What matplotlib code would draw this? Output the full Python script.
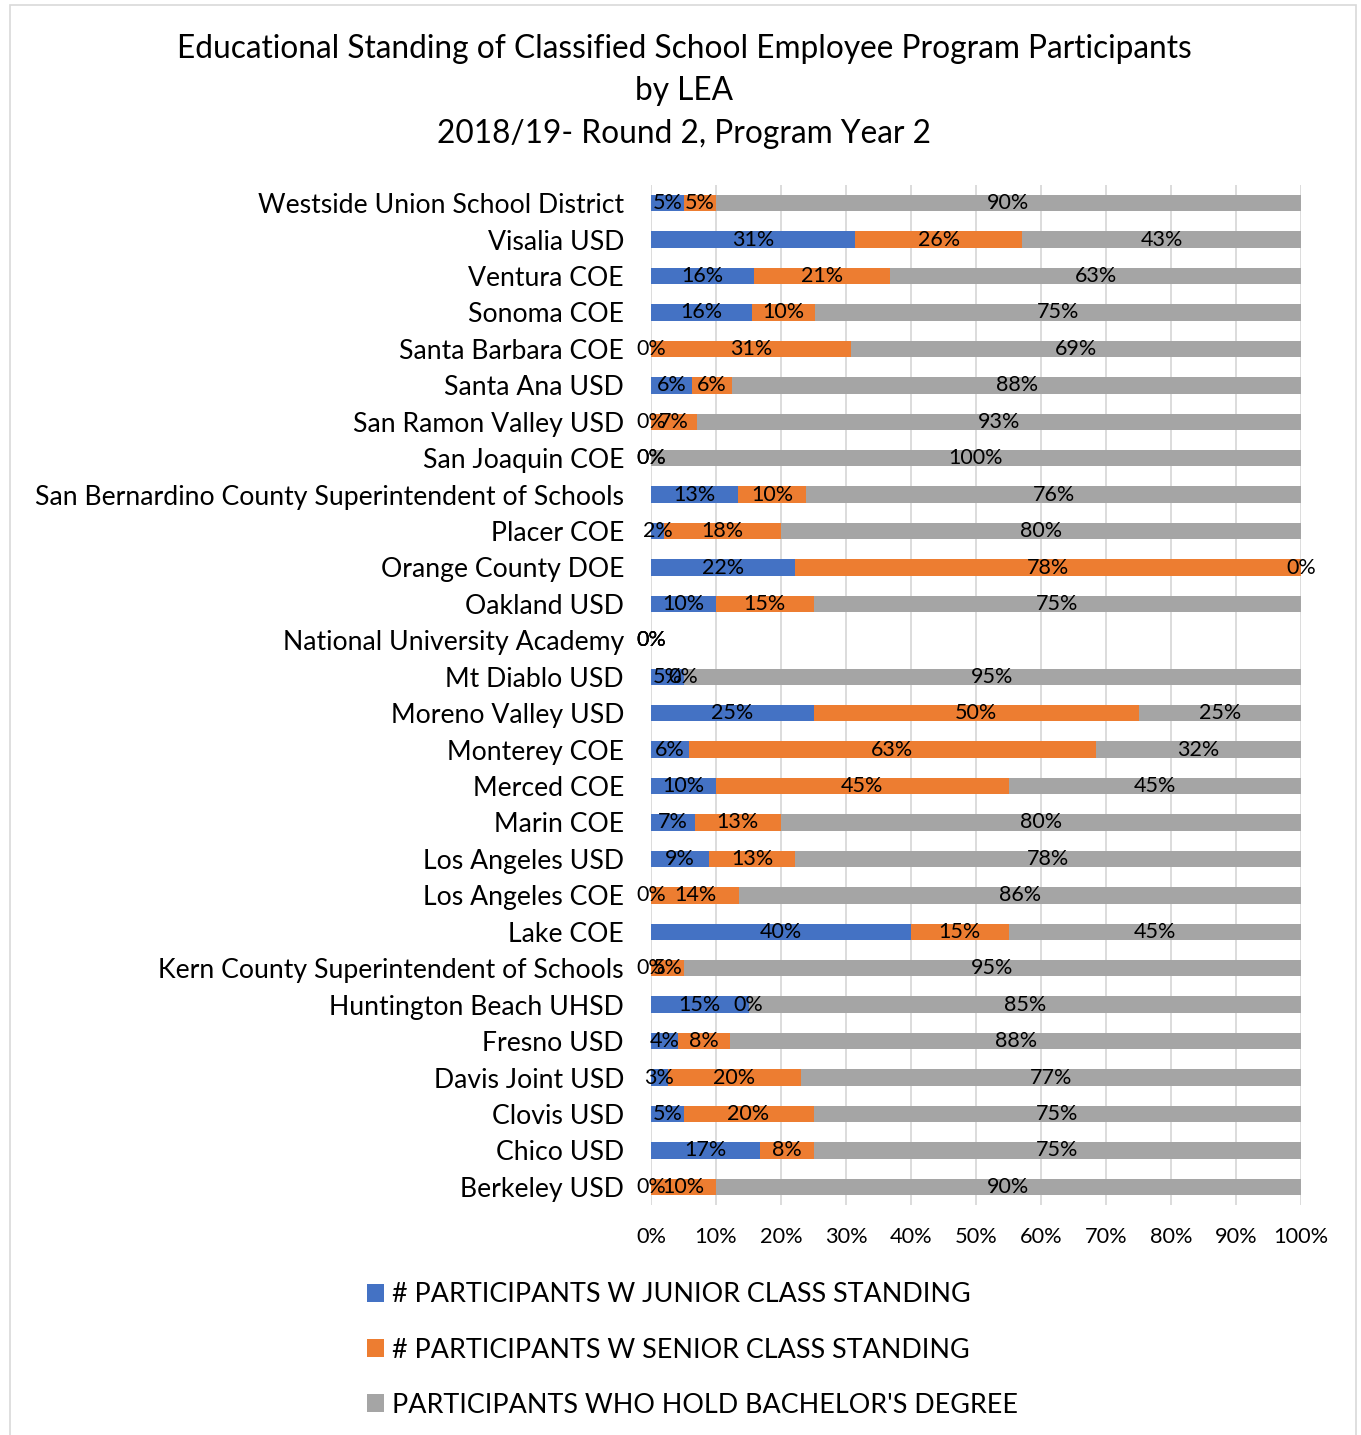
import matplotlib
matplotlib.use("Agg")
import matplotlib.pyplot as plt
from matplotlib.patches import Rectangle

plt.rcParams['font.family'] = ['Lato', 'DejaVu Sans']

categories = [
    "Westside Union School District", "Visalia USD", "Ventura COE", "Sonoma COE",
    "Santa Barbara COE", "Santa Ana USD", "San Ramon Valley USD", "San Joaquin COE",
    "San Bernardino County Superintendent of Schools", "Placer COE", "Orange County DOE",
    "Oakland USD", "National University Academy", "Mt Diablo USD", "Moreno Valley USD",
    "Monterey COE", "Merced COE", "Marin COE", "Los Angeles USD", "Los Angeles COE",
    "Lake COE", "Kern County Superintendent of Schools", "Huntington Beach UHSD",
    "Fresno USD", "Davis Joint USD", "Clovis USD", "Chico USD", "Berkeley USD",
]
junior = [5, 31.4, 15.8, 15.6, 0, 6.25, 0, 0, 13.4, 2, 22.2, 10, 0, 5, 25,
          5.8, 10, 6.7, 8.9, 0, 40, 0, 15, 4.2, 2.6, 5, 16.7, 0]
senior = [5, 25.7, 21.0, 9.6, 30.8, 6.25, 7.1, 0, 10.5, 18, 77.8, 15, 0, 0, 50,
          62.6, 45, 13.3, 13.3, 13.6, 15, 5, 0, 8.0, 20.5, 20, 8.3, 10]
bachelor = [90, 42.9, 63.2, 74.8, 69.2, 87.5, 92.9, 100, 76.1, 80, 0, 75, 0, 95, 25,
            31.6, 45, 80, 77.8, 86.4, 45, 95, 85, 87.8, 76.9, 75, 75, 90]
series_names = ["# PARTICIPANTS W JUNIOR CLASS STANDING",
                "# PARTICIPANTS W SENIOR CLASS STANDING",
                "PARTICIPANTS WHO HOLD BACHELOR'S DEGREE"]
colors = ["#4472C4", "#ED7D31", "#A5A5A5"]
xticks = [0, 10, 20, 30, 40, 50, 60, 70, 80, 90, 100]
xtick_labels = [f"{t}%" for t in xticks]
title_lines = ["Educational Standing of Classified School Employee Program Participants",
               "by LEA", "2018/19- Round 2, Program Year 2"]

W, H = 1361, 1435
fig = plt.figure(figsize=(W / 100, H / 100), dpi=100)

# outer chart border
fig.patches.append(Rectangle((10 / W, -0.01), (1356 - 10) / W, 1 - 5 / H + 0.01,
                             transform=fig.transFigure, fill=False,
                             edgecolor="#D9D9D9", linewidth=1.2))

ax = fig.add_axes([651 / W, 1 - 1205 / H, (1301 - 651) / W, (1205 - 185) / H])

y = list(range(len(categories)))
left = [0] * len(categories)
for vals, name, col in zip([junior, senior, bachelor], series_names, colors):
    cont = ax.barh(y, vals, left=left, height=0.45, color=col, label=name, zorder=3)
    ax.bar_label(cont, labels=[f"{v:.0f}%" for v in vals], label_type='center',
                 fontsize=15.5, color="black", zorder=4)
    left = [l + v for l, v in zip(left, vals)]

ax.set_xlim(0, 100)
ax.set_ylim(len(categories) - 0.5, -0.5)
ax.set_yticks(y)
ax.set_yticklabels(categories, fontsize=19.2)
ax.set_xticks(xticks)
ax.set_xticklabels(xtick_labels, fontsize=15.7)
ax.tick_params(axis='y', length=0, pad=19.5)
ax.tick_params(axis='x', length=0, pad=15.5)
ax.grid(axis='x', color="#D9D9D9", linewidth=1.3, zorder=0)
for s in ax.spines.values():
    s.set_visible(False)

title_y = [49, 91, 134]
for line, ty in zip(title_lines, title_y):
    fig.text(684 / W, 1 - ty / H, line, ha='center', va='center', fontsize=22.8)

handles, labels = ax.get_legend_handles_labels()
fig.legend(handles, labels, loc='center left', bbox_to_anchor=(356 / W, 1 - 1350 / H),
           frameon=False, fontsize=19.4, handlelength=0.65, handleheight=0.65,
           handletextpad=0.3, labelspacing=1.12, borderaxespad=0)

fig.savefig("out.png", dpi=100)
